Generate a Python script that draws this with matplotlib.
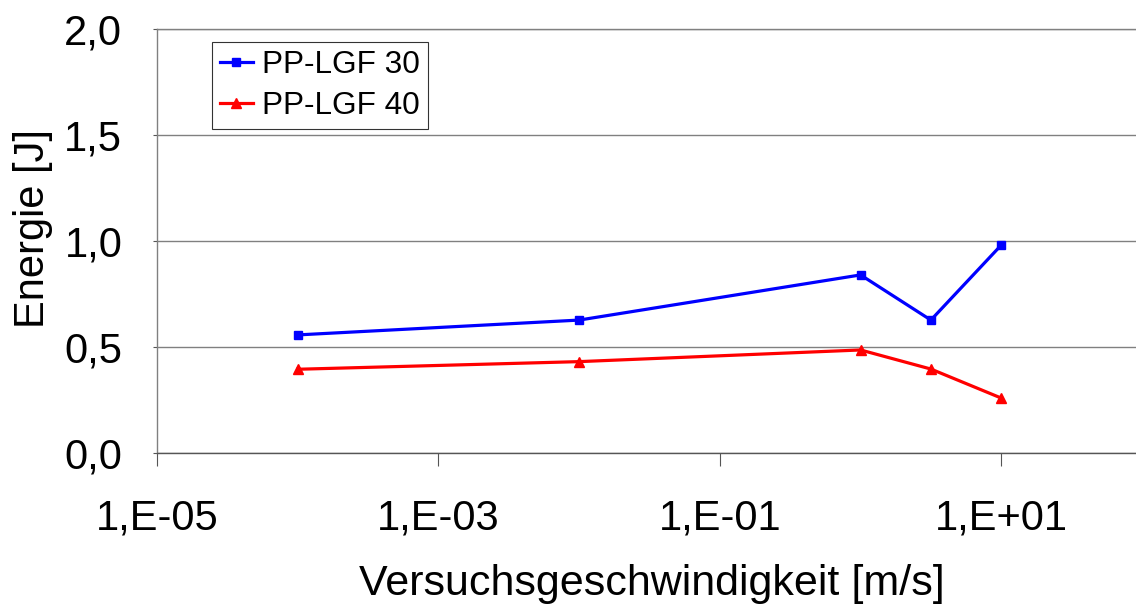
import matplotlib
matplotlib.use("Agg")
import matplotlib.pyplot as plt
from matplotlib.ticker import FixedLocator, NullLocator

plt.rcParams['font.family'] = ['Liberation Sans', 'DejaVu Sans']

speed = [1e-4, 1e-2, 1.0, 3.16, 10.0]
pp_lgf30 = [0.557, 0.627, 0.840, 0.627, 0.981]
pp_lgf40 = [0.395, 0.431, 0.486, 0.396, 0.259]
x_ticks = [1e-5, 1e-3, 1e-1, 1e1]
x_tick_labels = ["1,E-05", "1,E-03", "1,E-01", "1,E+01"]
y_ticks = [0.0, 0.5, 1.0, 1.5, 2.0]
y_tick_labels = ["0,0", "0,5", "1,0", "1,5", "2,0"]

W, H = 1136, 606
fig = plt.figure(figsize=(W / 100, H / 100), dpi=100)
ax = fig.add_axes([157 / W, (H - 453) / H, (1142 - 157) / W, (453 - 29) / H])

ax.plot(speed, pp_lgf30, color='#0000FF', lw=2.3, marker='s', ms=6, label='PP-LGF 30', clip_on=False)
ax.plot(speed, pp_lgf40, color='#FF0000', lw=2.3, marker='^', ms=6.5, label='PP-LGF 40', clip_on=False)

ax.set_xscale('log')
ax.set_xlim(1e-5, 1e2)
ax.set_ylim(0, 2.0)
ax.xaxis.set_major_locator(FixedLocator(x_ticks))
ax.xaxis.set_minor_locator(NullLocator())
ax.set_xticklabels(x_tick_labels)
ax.set_yticks(y_ticks)
ax.set_yticklabels(y_tick_labels)

ax.yaxis.grid(True, color='#808080', lw=1.0)
ax.set_axisbelow(True)
for s in ['left', 'top', 'right']:
    ax.spines[s].set_color('#808080')
    ax.spines[s].set_linewidth(1.0)
ax.spines['bottom'].set_color('#555555')
ax.spines['bottom'].set_linewidth(1.0)

ax.tick_params(axis='x', direction='out', length=9, width=0.8, color='#555555', pad=24, labelsize=30)
ax.tick_params(axis='y', direction='out', length=3, width=0.8, color='#555555', pad=22, labelsize=30)

fig.text(652 / W, 1 - 584 / H, 'Versuchsgeschwindigkeit [m/s]', ha='center', va='center', fontsize=31)
fig.text(33 / W, 1 - 228 / H, 'Energie [J]', ha='center', va='center', rotation=90, fontsize=30)

leg = ax.legend(loc='upper left', bbox_to_anchor=((212 - 157) / 985, (453 - 42) / 424),
                fontsize=22.7, frameon=True, fancybox=False, borderpad=0.25,
                handlelength=1.05, handletextpad=0.3, labelspacing=0.35, borderaxespad=0)
leg.get_frame().set_edgecolor('black')
leg.get_frame().set_linewidth(0.8)

fig.savefig('out.png', dpi=100)
